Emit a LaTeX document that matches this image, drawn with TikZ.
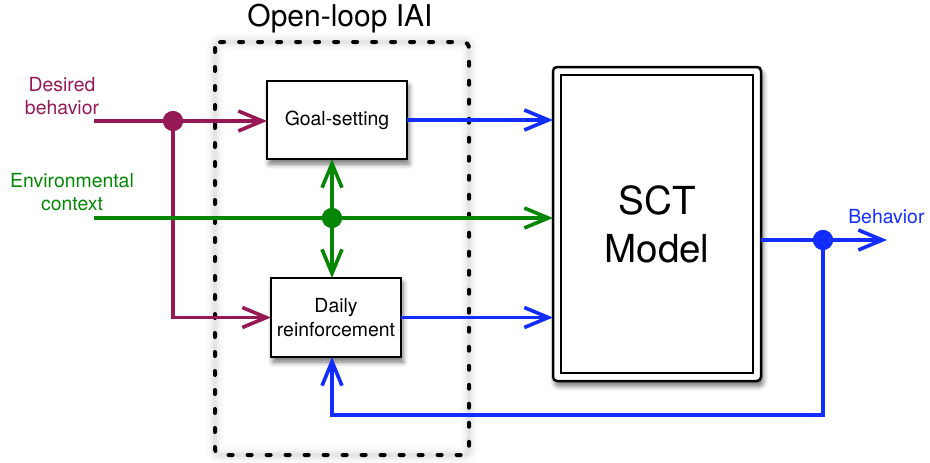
\documentclass[tikz,border=0pt]{standalone}
\usepackage{fontspec}
\setmainfont{TeX Gyre Heros}
\usetikzlibrary{arrows.meta,shadows.blur}
\definecolor{maroonline}{RGB}{150,25,85}
\definecolor{greenline}{RGB}{5,135,5}
\definecolor{blueline}{RGB}{20,45,255}

\begin{document}
\begin{tikzpicture}[x=1pt,y=-1pt,
  smalltext/.style={font=\fontsize{19.4}{23.5}\selectfont},
  blockbox/.style={draw=black, line width=2pt, fill=white, inner sep=0pt,
    outer sep=0pt, align=center, smalltext,
    blur shadow={shadow xshift=2pt, shadow yshift=-5pt,
      shadow blur radius=5pt, shadow opacity=55}},
  junction/.style={circle, fill=#1, minimum size=20pt, inner sep=0pt, outer sep=0pt},
  flow/.style={draw=#1, line width=3.6pt,
    -{Straight Barb[length=24pt,width=20pt,line width=3.6pt]}},
  dotframe/.style={draw=black, line width=4pt, line cap=round,
    dash pattern=on 4pt off 15pt, rounded corners=6pt},
  halo/.style={draw=black, rounded corners=6pt, draw opacity=#1}
]
\useasboundingbox (0,0) rectangle (930,463);

% soft halo behind the dotted frame
\foreach \w/\o in {18/0.015, 13/0.02, 8/0.03, 4/0.04}
  \draw[halo=\o, line width=\w pt] (215,42) rectangle (469,455);
\draw[dotframe] (215,42) rectangle (469,455);
\node[font=\fontsize{30}{36}\selectfont, anchor=base] (title) at (340,27) {Open-loop IAI};

% blocks
\node[blockbox, minimum width=140pt, minimum height=78pt] (goal) at (337,120) {Goal-setting};
\node[blockbox, minimum width=130pt, minimum height=79pt] (daily) at (336,317.5) {Daily\\reinforcement};
\node[blockbox, line width=2.5pt, rounded corners=4pt, minimum width=208pt,
      minimum height=314pt, font=\fontsize{38.6}{48}\selectfont] (sct) at (657,224) {SCT\\Model};
\draw[line width=2.5pt] ([shift={(8,8)}]sct.north west) rectangle ([shift={(-8,-8)}]sct.south east);

% input labels
\node[smalltext, align=center, text=maroonline] (desired) at (62,96) {Desired\\behavior};
\node[smalltext, align=center, text=greenline] (env) at (72,192) {Environmental\\context};
\node[smalltext, anchor=base east, text=blueline] (behav) at (928,223) {Behavior};

% desired behavior branch
\coordinate (dbStart) at (94,121);
\node[junction=maroonline] (dA) at (173,121) {};
\draw[flow=maroonline] (dbStart) -- (dbStart -| goal.west);
\draw[flow=maroonline] (dA.center) |- (daily.west);
\fill[maroonline] (dA) circle (10);

% environmental context branch
\coordinate (ecStart) at (94,218);
\node[junction=greenline] (dE) at (332,218) {};
\draw[flow=greenline] (ecStart) -- (ecStart -| sct.west);
\draw[flow=greenline] (dE.center) -- (dE.center |- goal.south);
\draw[flow=greenline] (dE.center) -- (dE.center |- daily.north);
\fill[greenline] (dE) circle (10);

% outputs into the model
\draw[flow=blueline] (goal.east) -- (goal.east -| sct.west);
\draw[flow=blueline] (daily.east) -- (daily.east -| sct.west);

% behavior output and feedback
\coordinate (bEnd) at (887,240);
\coordinate (fb) at (823,415);
\node[junction=blueline] (dB) at (823,240) {};
\draw[flow=blueline] (sct.east |- bEnd) -- (bEnd);
\draw[flow=blueline] (dB.center) -- (fb) -- (fb -| dE) -- (dE |- daily.south);
\fill[blueline] (dB) circle (10);
\end{tikzpicture}
\end{document}
